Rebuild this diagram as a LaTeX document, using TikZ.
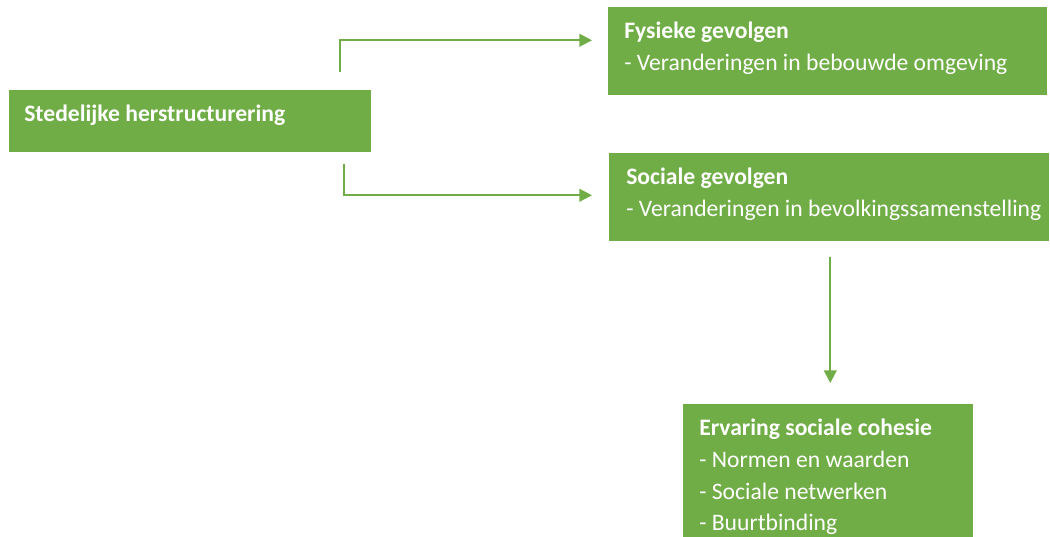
\documentclass[tikz,border=0pt]{standalone}
\usepackage{fontspec}
\setmainfont{Carlito}
\usetikzlibrary{calc,arrows.meta}
\definecolor{boxgreen}{HTML}{70AD47}

\begin{document}
\begin{tikzpicture}[x=0.025cm, y=-0.025cm,
		box/.style={fill=boxgreen, inner sep=0pt, anchor=north west},
		boxtext/.style={text=white, inner sep=0pt, anchor=north west, align=left, font=\fontsize{16.8}{22.5}\selectfont},
		arrow/.style={draw=boxgreen, line width=1.5pt, -{Triangle[length=9pt,width=9pt]}}]
		\useasboundingbox (0,0) rectangle (1050,537);

		\node[box, minimum width=362*0.025cm, minimum height=62*0.025cm] (sted) at (9,90) {};
		\node[boxtext] (stedtext) at ($(sted.north west)+(15,15)$) {\textbf{Stedelijke herstructurering}};

		\node[box, minimum width=439*0.025cm, minimum height=88*0.025cm] (fys) at (608,7) {};
		\node[boxtext] (fystext) at ($(fys.north west)+(16,15)$) {\textbf{Fysieke gevolgen}\\- Veranderingen in bebouwde omgeving};

		\node[box, minimum width=440*0.025cm, minimum height=88*0.025cm] (soc) at (609,153) {};
		\node[boxtext] (soctext) at ($(soc.north west)+(17,15)$) {\textbf{Sociale gevolgen}\\- Veranderingen in bevolkingssamenstelling};

		\node[box, minimum width=290*0.025cm, minimum height=133*0.025cm] (erv) at (683,404) {};
		\node[boxtext] (ervtext) at ($(erv.north west)+(16,15)$) {\textbf{Ervaring sociale cohesie}\\- Normen en waarden\\- Sociale netwerken\\- Buurtbinding};

		\draw[arrow] ($(sted.north west)+(331,-18)$) |- ($(fys.west)+(-16,-11)$);
		\draw[arrow] ($(sted.south west)+(335,11)$) |- ($(soc.west)+(-17,-2)$);
		\draw[arrow] ($(soc.south)+(1,15)$) -- ($(erv.north)+(2,-21)$);
	\end{tikzpicture}
\end{document}
